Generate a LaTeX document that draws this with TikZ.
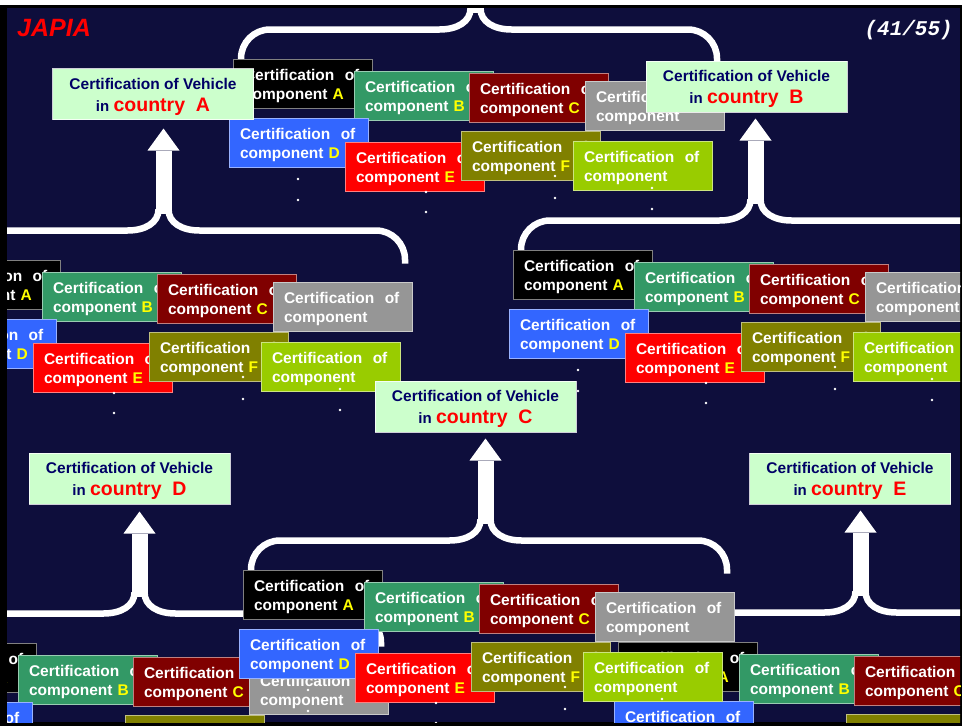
\documentclass[tikz,border=0pt]{standalone}
\usepackage{fontspec}
\setmainfont{Liberation Sans}
\newfontfamily\pagenofont{Liberation Mono}

\definecolor{slidebg}{HTML}{0E0E3C}
\definecolor{cBlack}{HTML}{000000}
\definecolor{cGreen}{HTML}{339966}
\definecolor{cMaroon}{HTML}{800000}
\definecolor{cGray}{HTML}{969696}
\definecolor{cBlue}{HTML}{3366FF}
\definecolor{cRed}{HTML}{FF0000}
\definecolor{cOlive}{HTML}{808000}
\definecolor{cLime}{HTML}{99CC00}
\definecolor{cYellow}{HTML}{FFFF00}
\definecolor{cntFill}{HTML}{CCFFCC}
\definecolor{cntText}{HTML}{000066}

\tikzset{
  compbox/.style={anchor=north west, draw=white, draw opacity=0.5, line width=1pt,
    minimum height=49.5pt, text width=117.5pt, inner xsep=11pt, inner ysep=0pt,
    outer sep=0pt, align=left, text=white,
    font=\bfseries\fontsize{15.5}{19}\selectfont},
  countrybox/.style={draw=white, draw opacity=0.8, line width=1pt, fill=cntFill,
    minimum width=201pt, minimum height=51pt, inner sep=0pt, outer sep=0pt,
    align=center, text=cntText, font=\bfseries\fontsize{15.5}{22}\selectfont},
  bracestroke/.style={draw=white, line width=6.5pt},
}

% labels of the certificate boxes
\newcommand{\complabel}[1]{\rule{0pt}{16pt}Certification\ \ of\\component \textcolor{cYellow}{#1}}
\newcommand{\plainlabel}{\rule{0pt}{16pt}Certification\ \ of\\component}
\newcommand{\vehiclelabel}[1]{\rule{0pt}{17pt}Certification of Vehicle\\%
  {\fontsize{15}{22}\selectfont in} {\color{cRed}\fontsize{19.5}{22}\selectfont country\ \ #1}}

% one group of component certificates with the brace and arrow above it;
% #1 = position of the top-left corner of box A, #2 = node name prefix
\newcommand{\compcluster}[2]{%
\begin{scope}[shift={#1}, name prefix=#2-]
  \draw[bracestroke] (8,5.5) -- (8,-0.5) .. controls (8,-16.5) and (21,-29.5) .. (37,-29.5)
     -- (206.5,-29.5) .. controls (224.5,-29.5) and (237.5,-37.5) .. (237.5,-50.5);
  \draw[bracestroke] (247.5,-50.5) .. controls (247.5,-37.5) and (260.5,-29.5) .. (278.5,-29.5)
     -- (455,-29.5) .. controls (471,-29.5) and (484,-16.5) .. (484,-0.5) -- (484,3.5);
  \fill[white] (234.5,-46.5) rectangle (250.5,-109.5);
  \fill[white] (226.5,-109.5) -- (242.5,-131.5) -- (258.5,-109.5) -- cycle;
  \node[compbox, fill=cBlack]  (A) at (0,0)    {\complabel{A}};
  \node[compbox, fill=cGreen]  (B) at (121,12) {\complabel{B}};
  \node[compbox, fill=cMaroon] (C) at (236,14) {\complabel{C}};
  \node[compbox, fill=cGray]   (G) at (352,22) {\plainlabel};
  \node[compbox, fill=cBlue]   (D) at (-4,59)  {\complabel{D}};
  \node[compbox, fill=cRed]    (E) at (112,83) {\complabel{E}};
  \node[compbox, fill=cOlive]  (F) at (228,72) {\complabel{F}};
  \node[compbox, fill=cLime]   (H) at (340,82) {\plainlabel};
  % vertical ellipses below the lower row
  \foreach \dx/\dy in {65/120,65/141,193/133,193/153,322/117,322/139,419/129,419/150}
    \fill[white] (\dx,\dy) circle (1.4pt);
\end{scope}}

\begin{document}
\begin{tikzpicture}[x=1pt, y=-1pt]
  \useasboundingbox (0,0) rectangle (962,726);
  % slide frame
  \fill[black] (0,0) rectangle (962,726);
  \fill[white] (0,0) rectangle (962,4.5);
  \fill[slidebg] (7,8) rectangle (960,722);

  \begin{scope}
    \clip (7,8) rectangle (960,722);
    \compcluster{(233,59)}{top}
    \compcluster{(-79,260)}{left}
    \compcluster{(513,250)}{right}
    \compcluster{(-103,643)}{lowleft}
    \compcluster{(618,642)}{lowright}
    \compcluster{(243,570)}{lowmid}

    % vehicle certificates
    \node[countrybox] (vA) at (153,94)      {\vehiclelabel{A}};
    \node[countrybox] (vB) at (746.5,86.5)  {\vehiclelabel{B}};
    \node[countrybox] (vC) at (475.5,406.5) {\vehiclelabel{C}};
    \node[countrybox] (vD) at (129.5,478.5) {\vehiclelabel{D}};
    \node[countrybox] (vE) at (850,478.5)   {\vehiclelabel{E}};
  \end{scope}

  \node[anchor=base west, inner sep=0pt, text=cRed,
        font=\bfseries\itshape\fontsize{25}{25}\selectfont] (logo) at (17,36) {JAPIA};
  \node[anchor=base east, inner sep=0pt, text=white,
        font=\pagenofont\bfseries\itshape\fontsize{21}{21}\selectfont] (pageno) at (953,35) {(41/55)};
\end{tikzpicture}
\end{document}
